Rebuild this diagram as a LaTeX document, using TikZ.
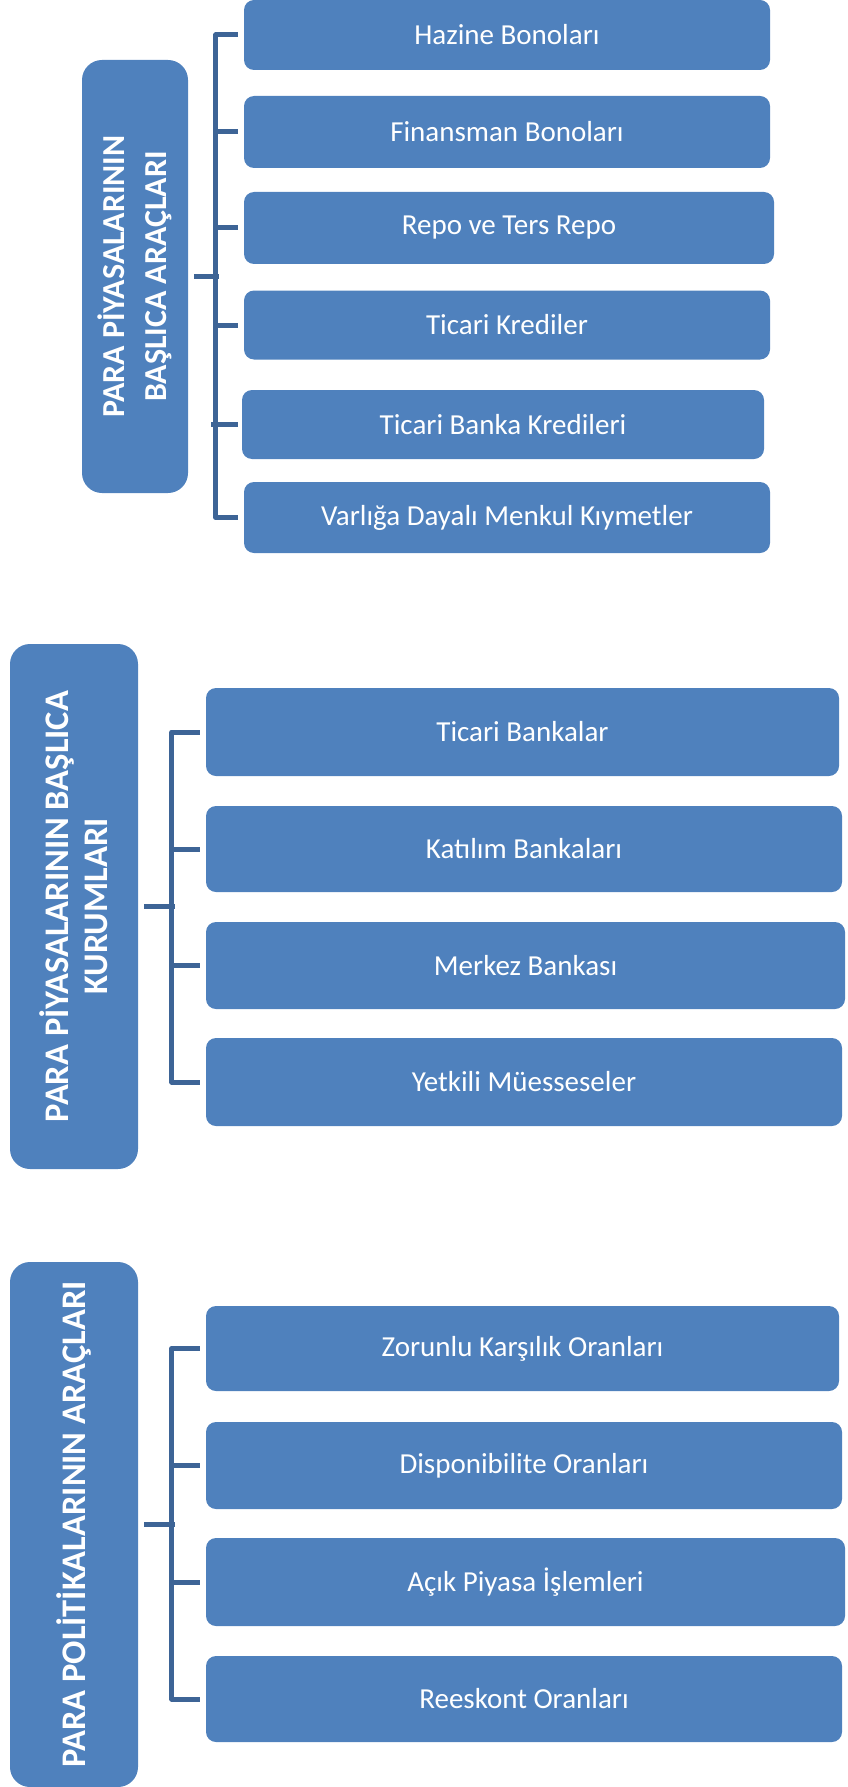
\documentclass[tikz,border=0pt]{standalone}
\usepackage{fontspec}
\setmainfont{Carlito}
\definecolor{boxblue}{RGB}{79,129,189}
\definecolor{linkblue}{RGB}{61,100,150}
\tikzset{
  item/.style={fill=boxblue, rounded corners=10pt, text=white, inner sep=0pt,
    font=\fontsize{29}{35}\selectfont},
  titlebox/.style={fill=boxblue, rounded corners=20pt, text=white, inner sep=0pt,
    rotate=90, align=center},
  link/.style={draw=linkblue, line width=5pt, line join=round},
}
\begin{document}
\begin{tikzpicture}[x=1pt, y=-1pt]
\useasboundingbox (0,0) rectangle (847,1787);

% ---------- Section 1 ----------
\node[titlebox, minimum width=433pt, minimum height=106pt,
  font=\bfseries\fontsize{32}{42}\selectfont] (t1) at (135,276.5)
  {PARA  PİYASALARININ\\BAŞLICA ARAÇLARI};
\node[item, minimum width=526pt, minimum height=70pt] (b1) at (507,35) {Hazine Bonoları};
\node[item, minimum width=526pt, minimum height=72pt] (b2) at (507,132) {Finansman Bonoları};
\node[item, minimum width=530pt, minimum height=72pt] (b3) at (509,228) {Repo ve Ters Repo};
\node[item, minimum width=526pt, minimum height=69pt] (b4) at (507,325) {Ticari Krediler};
\node[item, minimum width=522pt, minimum height=69pt] (b5) at (503,424.5) {Ticari Banka Kredileri};
\node[item, minimum width=526pt, minimum height=71pt] (b6) at (507,517.5) {Varlığa Dayalı Menkul Kıymetler};

\draw[link] ([xshift=-6pt]b1.west) -| ([xshift=-28pt]b6.west) -- ([xshift=-6pt]b6.west);
\foreach \n in {b2,b3,b4}
  \draw[link] ([xshift=-6pt]\n.west) -- ++(-24.5pt,0);
\draw[link] ([xshift=-4pt]b5.west) -- ++(-26.5pt,0);
\draw[link] ([xshift=6pt]t1.south) -- ++(24.5pt,0);

% ---------- Section 2 ----------
\node[titlebox, minimum width=525pt, minimum height=128pt,
  font=\bfseries\fontsize{34.5}{39}\selectfont] (t2) at (74,906.5)
  {PARA  PİYASALARININ BAŞLICA\\KURUMLARI};
\node[item, minimum width=633pt, minimum height=88pt] (c1) at (522.5,732) {Ticari Bankalar};
\node[item, minimum width=636pt, minimum height=86pt] (c2) at (524,849) {Katılım Bankaları};
\node[item, minimum width=639pt, minimum height=87pt] (c3) at (525.5,965.5) {Merkez Bankası};
\node[item, minimum width=636pt, minimum height=88pt] (c4) at (524,1082) {Yetkili Müesseseler};

\draw[link] ([xshift=-6pt]c1.west) -| ([xshift=-34pt]c4.west) -- ([xshift=-6pt]c4.west);
\foreach \n in {c2,c3}
  \draw[link] ([xshift=-6pt]\n.west) -- ++(-30.5pt,0);
\draw[link] ([xshift=6pt]t2.south) -- ++(30.5pt,0);

% ---------- Section 3 ----------
\node[titlebox, minimum width=525pt, minimum height=128pt,
  font=\bfseries\fontsize{34.5}{39}\selectfont] (t3) at (74,1524.5)
  {PARA  POLİTİKALARININ ARAÇLARI};
\node[item, minimum width=633pt, minimum height=85pt] (d1) at (522.5,1348.5) {Zorunlu Karşılık Oranları};
\node[item, minimum width=636pt, minimum height=87pt] (d2) at (524,1465.5) {Disponibilite Oranları};
\node[item, minimum width=639pt, minimum height=88pt] (d3) at (525.5,1582) {Açık Piyasa İşlemleri};
\node[item, minimum width=636pt, minimum height=86pt] (d4) at (524,1699) {Reeskont Oranları};

\draw[link] ([xshift=-6pt]d1.west) -| ([xshift=-34pt]d4.west) -- ([xshift=-6pt]d4.west);
\foreach \n in {d2,d3}
  \draw[link] ([xshift=-6pt]\n.west) -- ++(-30.5pt,0);
\draw[link] ([xshift=6pt]t3.south) -- ++(30.5pt,0);
\end{tikzpicture}
\end{document}
